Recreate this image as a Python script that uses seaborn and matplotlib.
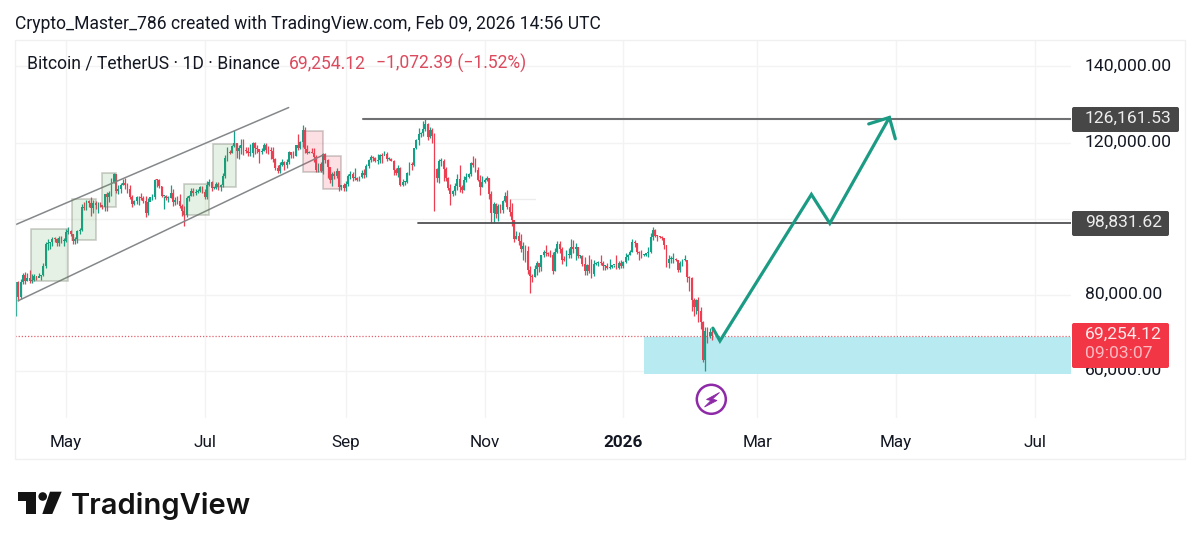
import numpy as np
import pandas as pd
import seaborn as sns
import matplotlib
matplotlib.use("Agg")
import matplotlib.pyplot as plt
from matplotlib.patches import Rectangle, Circle, Polygon, FancyBboxPatch
from matplotlib.transforms import Affine2D, ScaledTranslation

# ---- data: BTC/USDT daily, prices in thousands, x = days since 2025-05-01
close_px = [
 83.4,79.6,83.4,85.3,83.7,84.5,83.6,84.0,84.9,84.5,85.1,85.2,87.5,93.4,93.7,93.9,94.7,94.6,93.7,95.0,94.2,94.2,
 96.5,96.9,95.9,94.3,94.7,96.8,97.0,103.2,102.9,104.6,104.1,102.8,104.1,103.5,103.7,103.5,103.2,106.4,105.6,106.8,109.6,111.7,107.3,107.8,109.0,109.4,108.9,107.8,105.6,103.9,104.6,
 105.6,105.8,105.4,104.7,101.5,104.4,105.6,105.7,110.3,110.2,108.6,105.9,106.1,105.5,105.5,106.8,104.5,104.9,104.7,103.3,102.1,100.9,105.4,106.0,107.3,106.9,107.1,107.4,108.4,107.1,
 105.7,108.9,109.6,108.0,108.2,109.2,108.3,109.0,111.3,116.0,117.5,117.4,119.1,119.8,117.7,118.7,119.3,117.9,117.8,117.3,117.4,119.9,118.6,118.3,117.6,117.9,119.4,118.0,117.9,117.8,115.8,
 113.3,112.5,114.2,115.0,114.1,115.0,117.5,116.7,116.5,119.3,118.7,120.2,123.3,118.4,117.4,117.5,117.4,116.2,112.9,114.3,112.5,116.9,115.4,113.5,110.1,111.8,111.2,112.5,108.4,108.8,108.2,
 109.2,111.2,111.7,110.7,110.7,110.2,111.1,112.1,111.5,113.9,115.5,116.1,115.9,115.3,115.4,116.8,116.5,117.1,115.7,115.7,115.3,112.7,112.0,113.3,109.0,109.7,109.7,112.1,114.4,114.0,
 118.6,120.7,122.3,122.4,123.5,124.8,121.5,123.3,121.7,113.2,110.8,115.2,115.3,113.0,110.8,108.2,106.5,107.2,108.7,110.5,108.4,107.6,110.1,111.0,111.7,114.6,114.1,112.9,110.1,108.3,109.6,
 110.1,110.6,106.5,101.6,103.9,101.3,103.3,102.3,104.7,106.0,103.1,101.7,99.7,94.6,95.6,94.2,92.2,92.9,91.6,86.6,85.1,84.6,86.8,88.3,87.4,90.5,91.3,90.9,90.8,90.4,
 86.3,91.3,93.5,92.1,89.3,89.2,90.4,90.6,92.7,92.0,92.5,90.3,90.3,88.2,86.4,87.9,86.2,85.5,88.1,88.3,88.6,88.5,87.5,87.6,87.2,87.3,87.8,87.8,87.1,88.4,87.6,
 88.7,89.9,90.6,91.4,93.8,93.7,91.2,91.0,90.5,90.6,90.9,91.2,95.3,97.0,95.5,95.4,95.1,95.0,93.0,88.3,89.4,89.5,89.5,89.2,86.6,88.3,89.1,89.2,84.6,84.5,78.7,
 76.9,78.7,75.7,73.0,62.9,70.5,69.3,70.327,69.254]
high_px = [
 83.5,83.6,84.2,85.8,86.0,85.8,86.5,85.5,85.5,85.1,85.7,85.3,88.5,93.8,94.7,94.0,95.2,95.3,95.0,95.6,95.5,95.0,
 97.4,97.9,97.0,96.0,95.3,97.0,97.7,103.9,104.3,104.9,104.9,105.7,104.9,104.7,104.5,104.5,103.7,106.6,107.0,107.3,110.7,111.9,111.7,109.0,109.3,110.4,110.7,109.3,108.9,106.3,104.9,
 105.9,105.9,106.8,105.9,105.9,105.5,105.8,106.5,110.5,110.4,110.4,108.7,106.1,106.2,106.0,108.9,107.7,105.6,106.0,106.5,104.0,103.3,106.0,106.2,108.0,108.2,107.7,107.7,108.5,108.7,
 107.8,109.8,110.5,109.8,108.4,109.7,109.7,109.2,111.9,116.8,118.9,118.0,119.5,123.2,120.0,119.5,120.9,120.9,118.9,118.8,119.7,120.2,120.2,119.4,118.3,118.5,119.8,119.8,119.0,118.8,118.9,
 116.0,114.0,114.8,115.7,115.1,115.7,117.7,117.6,117.9,119.3,122.3,120.3,124.5,124.0,119.3,117.9,118.6,118.6,116.8,114.6,114.8,117.4,117.4,115.7,113.6,112.4,112.6,113.4,112.6,109.0,109.5,
 109.9,111.8,112.6,112.2,113.4,111.0,111.2,112.9,113.2,114.3,115.8,116.7,116.4,116.1,116.9,117.0,117.3,117.9,117.5,116.1,116.0,115.4,113.3,114.0,113.5,110.4,110.0,112.4,114.8,114.8,
 118.7,121.0,123.9,122.9,125.7,126.2,125.1,124.2,123.8,122.5,113.3,115.8,115.9,115.6,113.6,111.1,109.2,107.5,109.5,111.7,114.0,109.0,111.3,112.0,112.0,115.0,116.4,116.0,113.6,111.6,111.2,
 110.6,111.2,110.8,107.3,104.5,104.2,104.0,103.9,105.0,107.0,107.5,105.3,104.1,99.8,96.8,96.6,96.0,93.8,93.2,92.8,87.5,85.6,88.0,89.0,88.5,90.6,91.9,93.1,91.2,91.9,
 91.4,92.3,94.1,94.1,92.7,90.3,91.8,92.3,94.6,94.4,93.6,92.7,90.6,90.4,90.0,88.2,90.4,89.4,89.2,88.6,89.0,90.6,88.9,88.0,88.4,89.5,87.9,88.0,90.4,89.0,89.2,
 88.8,90.9,90.7,91.7,94.8,94.4,93.6,91.5,91.9,90.8,91.1,92.5,96.2,97.9,97.2,95.8,95.6,95.5,93.4,93.0,90.4,90.3,91.1,89.8,89.3,88.8,89.5,90.5,88.5,85.0,84.6,
 79.3,79.0,79.4,76.9,73.1,71.5,71.7,71.4,71.5]
low_px = [
 74.6,78.5,79.0,82.8,83.0,83.6,83.1,83.2,83.8,84.0,84.6,83.9,85.0,87.0,91.9,92.0,92.9,93.9,92.9,92.8,93.6,92.9,
 94.0,95.9,95.6,93.5,93.5,93.7,96.0,96.9,102.2,102.4,103.0,100.7,101.4,102.6,101.4,103.0,102.6,102.0,102.0,104.3,106.1,109.3,106.7,106.6,106.7,108.8,107.9,106.8,105.3,103.1,103.6,
 103.8,103.7,104.9,104.2,100.4,101.1,104.8,105.0,105.3,108.3,108.2,105.8,102.6,104.9,104.4,105.5,103.4,103.5,103.9,102.9,100.8,98.2,100.4,104.7,105.9,106.1,106.2,106.8,107.0,106.8,
 105.3,105.2,108.6,107.3,107.8,107.9,107.5,107.4,108.4,110.6,115.2,116.9,117.2,118.9,116.0,115.7,117.0,116.8,117.2,116.5,116.4,116.1,117.0,117.3,114.7,117.1,117.8,117.3,116.9,115.8,115.0,
 112.7,112.0,111.9,113.8,112.7,113.4,114.3,115.9,116.0,116.5,118.0,118.2,118.9,117.2,117.0,117.2,117.2,114.9,112.4,112.4,112.4,111.7,114.6,110.8,109.3,108.7,110.4,110.8,107.4,107.5,107.3,
 107.3,108.6,110.5,110.0,110.1,110.0,110.0,110.6,110.8,110.9,113.4,114.8,115.2,114.8,114.3,114.7,114.7,116.8,115.2,115.4,115.1,111.5,111.5,111.1,108.7,108.6,108.9,109.3,111.6,112.7,
 113.9,118.2,119.4,121.6,121.7,123.1,120.6,121.1,119.9,102.0,109.6,109.5,113.9,110.0,110.0,107.5,103.5,106.1,106.2,107.5,107.0,106.9,107.5,109.7,110.8,111.2,113.6,112.2,109.8,106.3,108.4,
 109.4,109.8,105.3,98.9,98.9,100.3,99.3,101.4,101.5,104.3,102.5,100.8,98.0,94.0,94.6,93.0,91.2,89.3,88.6,85.4,80.6,83.5,84.7,85.3,86.1,86.3,90.1,90.2,90.3,90.0,
 85.6,86.2,91.0,90.9,88.2,88.9,87.7,89.6,89.6,91.0,89.3,89.6,89.8,87.6,85.2,85.3,85.8,84.4,85.1,87.9,87.7,87.8,86.6,86.5,86.8,86.7,87.0,87.3,86.7,86.8,87.0,
 87.0,88.4,89.3,90.5,91.3,92.6,90.8,89.3,89.8,90.2,90.3,90.1,90.9,94.5,95.1,94.3,94.9,94.5,92.0,87.3,87.2,88.5,88.3,88.8,86.1,86.1,87.5,88.9,83.4,81.1,75.7,
 74.6,75.0,72.9,71.0,62.3,60.0,67.3,68.8,68.3]
first_open = 76.3
first_day = -22

x_ticks = [0, 61, 123, 184, 245, 304, 365, 426]
x_labels = ["May", "Jul", "Sep", "Nov", "2026", "Mar", "May", "Jul"]
y_ticks = [60, 80, 100, 120, 140]
y_labels = ["60,000.00", "80,000.00", "", "120,000.00", "140,000.00"]

# drawings (day, price)
forecast_day = [284.4, 287.5, 327.7, 335.8, 362.0]
forecast_px = [71.3, 67.95, 106.4, 98.8, 126.6]
barb_day = [352.9, 362.0, 364.6]
barb_px = [124.9, 126.6, 121.0]
chan_up_day, chan_up_px = [-22.4, 97.9], [98.4, 129.2]
chan_lo_day, chan_lo_px = [-21.0, 112.9], [78.5, 116.7]
green_boxes = [(-15.3, 1.0, 83.8, 97.2), (2.8, 13.1, 94.4, 105.1), (15.7, 22.0, 103.2, 111.9),
               (51.9, 63.0, 101.0, 109.2), (64.8, 74.9, 108.3, 119.6)]
red_boxes = [(104.1, 112.9, 112.4, 123.0), (112.9, 120.9, 107.9, 116.6)]
res_top, res_top_start = 126.16153, 130.7
res_mid, res_mid_start = 98.83162, 154.6
faint_day, faint_px = [195.4, 206.4], [105.2, 105.2]
last_price = 69.25412
zone_start, zone_low, zone_high = 254.1, 59.27, 69.05

W, H = 1200, 548
sns.set_theme(style="white")
plt.rcParams["font.family"] = ["Roboto", "DejaVu Sans"]
fig = plt.figure(figsize=(W / 100, H / 100), dpi=100, facecolor="white")
L, R, T, B = 15, 1071, 40, 418
ax = fig.add_axes([L / W, 1 - B / H, (R - L) / W, (B - T) / H])
px = Affine2D().scale(1, -1).translate(0, H)   # pixel coordinates, y down

PPD, PPK = 2.2746, 3.81
ax.set_xlim((L - 66) / PPD, (R - 66) / PPD)
ax.set_ylim(60 + (371.2 - B) / PPK, 60 + (371.2 - T) / PPK)

# grid and axes
GRID = "#f3f3f4"
ax.set_xticks(x_ticks, x_labels)
ax.yaxis.tick_right()
ax.set_yticks(y_ticks, y_labels)
ax.grid(True, color=GRID, lw=1)
ax.set_axisbelow(True)
ax.tick_params(axis="x", length=0, pad=12, labelsize=12.3, labelcolor="#131722")
ax.tick_params(axis="y", length=0, pad=10, labelsize=12.6, labelcolor="#131722")
ax.get_xticklabels()[4].set_fontweight("bold")
lift = ScaledTranslation(0, 2 / 100, fig.dpi_scale_trans)
for lab in ax.get_yticklabels():
    lab.set_transform(lab.get_transform() + lift)
for s in ax.spines.values():
    s.set_visible(False)

# demand zone
ax.add_patch(Rectangle((zone_start, zone_low), ax.get_xlim()[1] - zone_start, zone_high - zone_low,
                       fc="#b7ebf1", ec="none", zorder=1))
ax.axhline(last_price, color="#e2606f", lw=0.9, ls=(0, (1, 1.5)), zorder=1.5)

# candles
close = np.array(close_px)
high = np.array(high_px)
low = np.array(low_px)
opens = np.r_[first_open, close[:-1]]
days = first_day + np.arange(len(close))
colors = np.where(close >= opens, "#12a087", "#ec3f52")
ax.vlines(days, low, high, colors=colors, lw=0.9, zorder=3)
ax.bar(days, np.maximum(np.abs(close - opens), 0.25), bottom=np.minimum(close, opens),
       width=0.8, color=colors, lw=0, zorder=3)

# horizontal levels and channel
xr = ax.get_xlim()[1]
sns.lineplot(x=[res_top_start, xr], y=[res_top, res_top], color="#6f7072", lw=1.5, ax=ax, zorder=4)
sns.lineplot(x=[res_mid_start, xr], y=[res_mid, res_mid], color="#505154", lw=1.3, ax=ax, zorder=4)
sns.lineplot(x=faint_day, y=faint_px, color="#ececec", lw=1, ax=ax, zorder=2)
sns.lineplot(x=chan_up_day, y=chan_up_px, color="#85888a", lw=1.1, ax=ax, zorder=4)
sns.lineplot(x=chan_lo_day, y=chan_lo_px, color="#85888a", lw=1.1, ax=ax, zorder=4)

# boxes
for (x0, x1, y0, y1) in green_boxes:
    ax.add_patch(Rectangle((x0, y0), x1 - x0, y1 - y0, fc=(0.30, 0.62, 0.25, 0.14), ec=(0.45, 0.47, 0.42, 0.36), lw=1.2, zorder=5))
for (x0, x1, y0, y1) in red_boxes:
    ax.add_patch(Rectangle((x0, y0), x1 - x0, y1 - y0, fc=(0.93, 0.25, 0.32, 0.16), ec=(0.48, 0.43, 0.43, 0.36), lw=1.2, zorder=5))

# forecast arrow
TEAL = "#1c9b84"
sns.lineplot(x=forecast_day, y=forecast_px, sort=False, estimator=None, color=TEAL, lw=2.3, ax=ax, zorder=6,
             solid_joinstyle="miter")
sns.lineplot(x=barb_day, y=barb_px, sort=False, estimator=None, color=TEAL, lw=2.3, ax=ax, zorder=6,
             solid_joinstyle="miter")
ax.set_xlabel("")
ax.set_ylabel("")

# outer frame
fig.add_artist(Rectangle((15, 40), 1170, 419, transform=px, fc="none", ec="#f0f0f1", lw=1))

# price tags
def tag(x0, x1, y0, y1, color):
    fig.add_artist(FancyBboxPatch((x0 + 2, y0 + 2), x1 - x0 - 4, y1 - y0 - 4, boxstyle="round,pad=2,rounding_size=2",
                                  transform=px, fc=color, ec="none", zorder=10))

def ptext(x, y, s, **kw):
    kw.setdefault("transform", px)
    kw.setdefault("va", "center")
    t = fig.text(x, y, s, **kw)
    t.set_zorder(11)
    return t

tag(1072, 1179, 107, 132, "#474747")
ptext(1085, 118.5, "126,161.53", color="#eeeeee", fontsize=12.6)
tag(1072, 1169, 211, 236, "#474747")
ptext(1085, 222.5, "98,831.62", color="#eeeeee", fontsize=12.6)
tag(1072, 1169, 323, 368, "#F23645")
ptext(1085, 334.5, "69,254.12", color="#ffe9ea", fontsize=12.6)
ptext(1085, 354, "09:03:07", color="#ffb9c0", fontsize=12.6)

# header text
ptext(15, 24, "Crypto_Master_786 created with TradingView.com, Feb 09, 2026 14:56 UTC", color="#131722", fontsize=12.63)
ptext(27, 63, "Bitcoin / TetherUS · 1D · Binance", color="#131722", fontsize=12.65)
ptext(289, 63, "69,254.12", color="#dc4a5d", fontsize=12.65)
ptext(376, 63, "−1,072.39 (−1.52%)", color="#dc4a5d", fontsize=12.65)

# lightning badge
PURPLE = "#8e2aa8"
fig.add_artist(Circle((711.3, 399.3), 14.5, transform=px, fc="white", ec=PURPLE, lw=1.8, zorder=9))
fig.add_artist(Polygon([(719.5, 392.5), (706.5, 399.5), (711, 400.5), (704.5, 407), (717, 400.5), (712.5, 399)],
                       closed=True, transform=px, fc=PURPLE, ec=PURPLE, lw=0.6, zorder=10))

# TradingView logo
INK = "#131313"
fig.add_artist(Polygon([(17.5, 491.7), (36, 491.7), (36, 514), (26, 514), (26, 501), (17.5, 501)],
                       closed=True, transform=px, fc=INK, ec="none"))
fig.add_artist(Circle((42.7, 496.5), 4.3, transform=px, fc=INK, ec="none"))
fig.add_artist(Polygon([(50, 491.7), (61.7, 491.7), (52.3, 514), (42.3, 514)],
                       closed=True, transform=px, fc=INK, ec="none"))
ptext(71, 514, "TradingView", color=INK, fontsize=21, fontweight="semibold", family=["Inter", "DejaVu Sans"], va="baseline")

fig.savefig("out.png", dpi=100, facecolor="white")
